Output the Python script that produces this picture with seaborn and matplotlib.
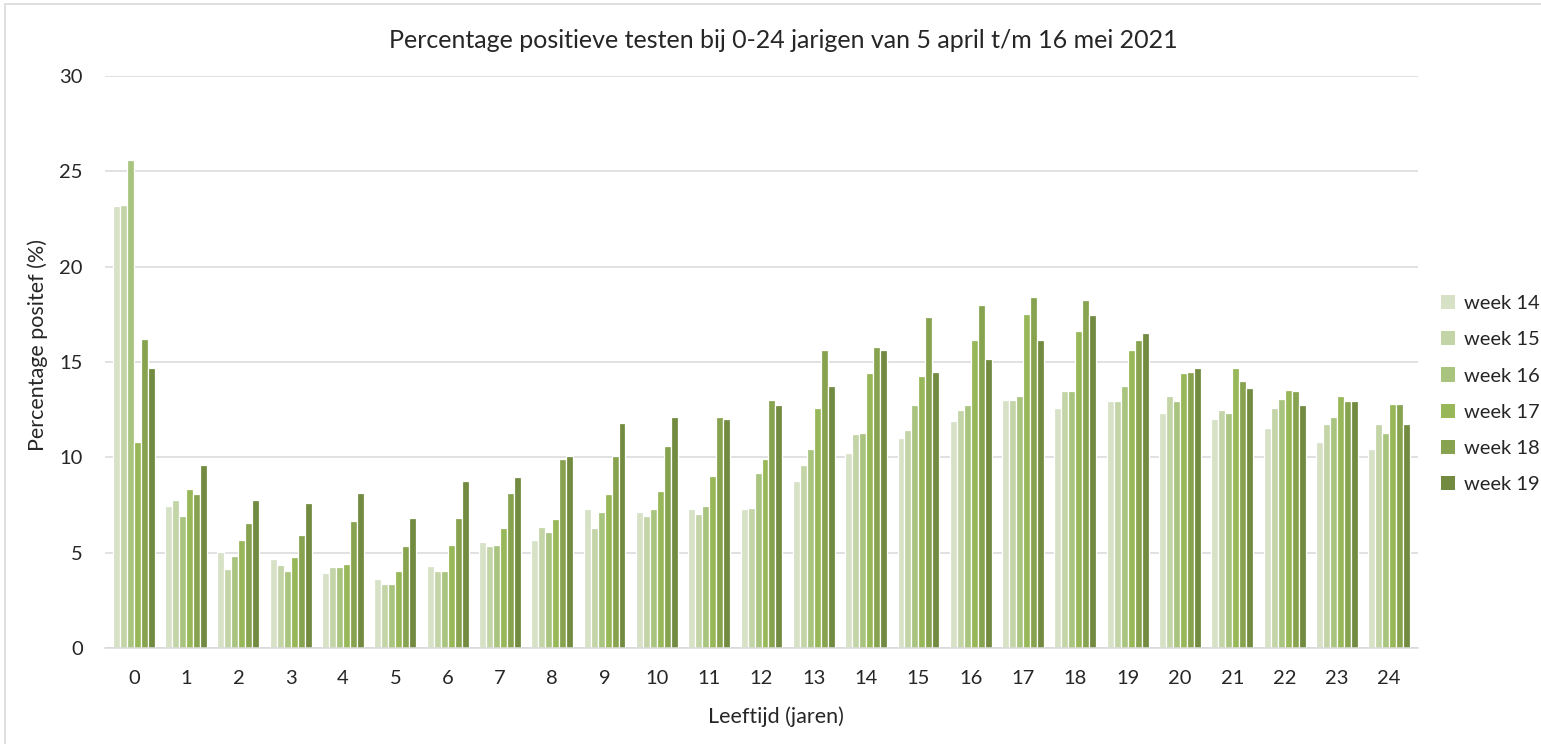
import matplotlib
matplotlib.use("Agg")
import matplotlib.pyplot as plt
import matplotlib.patches as mpatches
import numpy as np
import pandas as pd
import seaborn as sns

# Ages (years) on the x axis
ages = list(range(25))

# Share of positive tests (%) per week, one value per age
week14 = [23.2, 7.44, 5.06, 4.66, 3.94, 3.62, 4.32, 5.56, 5.64, 7.28, 7.14, 7.28, 7.28,
          8.74, 10.24, 11.02, 11.9, 13.02, 12.58, 12.94, 12.32, 12.0, 11.54, 10.82, 10.42]
week15 = [23.25, 7.78, 4.14, 4.34, 4.26, 3.36, 4.06, 5.36, 6.34, 6.28, 6.92, 7.04, 7.36,
          9.62, 11.2, 11.44, 12.46, 13.02, 13.46, 12.94, 13.22, 12.5, 12.58, 11.74, 11.74]
week16 = [25.6, 6.92, 4.84, 4.06, 4.26, 3.36, 4.06, 5.42, 6.08, 7.14, 7.28, 7.44, 9.16,
          10.42, 11.3, 12.74, 12.74, 13.22, 13.46, 13.72, 12.94, 12.32, 13.08, 12.1, 11.3]
week17 = [10.82, 8.36, 5.64, 4.78, 4.4, 4.06, 5.42, 6.28, 6.78, 8.06, 8.26, 9.0, 9.92,
          12.58, 14.44, 14.28, 16.14, 17.52, 16.64, 15.64, 14.42, 14.66, 13.52, 13.22, 12.8]
week18 = [16.22, 8.06, 6.58, 5.94, 6.64, 5.36, 6.84, 8.12, 9.92, 10.08, 10.6, 12.1, 13.02,
          15.64, 15.8, 17.34, 17.98, 18.42, 18.26, 16.14, 14.5, 14.02, 13.46, 12.94, 12.8]
week19 = [14.68, 9.62, 7.78, 7.62, 8.12, 6.84, 8.74, 8.98, 10.08, 11.82, 12.1, 12.0, 12.74,
          13.72, 15.64, 14.5, 15.14, 16.14, 17.44, 16.54, 14.66, 13.64, 12.74, 12.94, 11.74]

week_labels = ["week 14", "week 15", "week 16", "week 17", "week 18", "week 19"]
week_colors = ["#d6e1c5", "#c3d4a6", "#a9c47f", "#98b759", "#87a34f", "#728b40"]

series = [week14, week15, week16, week17, week18, week19]
df = pd.DataFrame({
    "leeftijd": np.tile(ages, len(series)),
    "week": np.repeat(week_labels, len(ages)),
    "pct": np.concatenate(series),
})

sns.set_theme(style="white")
plt.rcParams["font.family"] = ["Lato", "DejaVu Sans"]
TXT = "#262626"

fig = plt.figure(figsize=(15.41, 7.44), dpi=100)
ax = fig.add_axes([105 / 1541, 1 - 648 / 744, (1418 - 105) / 1541, (648 - 76) / 744])

sns.barplot(data=df, x="leeftijd", y="pct", hue="week", order=ages,
            hue_order=week_labels, palette=week_colors, width=0.8,
            edgecolor="white", linewidth=0.9, saturation=1, ax=ax, legend=False)

ax.set_ylim(0, 30)
ax.set_yticks([0, 5, 10, 15, 20, 25, 30])
ax.set_xlim(-0.55, 24.55)
ax.yaxis.grid(True, color="#d9d9d9", linewidth=1.1)
ax.set_axisbelow(True)
for side in ["left", "right", "top"]:
    ax.spines[side].set_visible(False)
ax.spines["bottom"].set_color("#d9d9d9")
ax.spines["bottom"].set_linewidth(1.1)
ax.tick_params(axis="both", length=0, labelsize=14.5, colors=TXT)
ax.tick_params(axis="y", pad=16)
ax.tick_params(axis="x", pad=16)
ax.set_xlabel("")
ax.set_ylabel("")

# Axis titles and chart title
fig.text(776 / 1541, 1 - 717 / 744, "Leeftijd (jaren)",
         ha="center", va="center", fontsize=15.5, color=TXT)
fig.text(38 / 1541, 1 - 345 / 744, "Percentage positef (%)",
         ha="center", va="center", rotation=90, fontsize=15.5, color=TXT)
fig.text(783 / 1541, 1 - 40 / 744,
         "Percentage positieve testen bij 0-24 jarigen van 5 april t/m 16 mei 2021",
         ha="center", va="center", fontsize=18, color=TXT)

handles = [mpatches.Patch(facecolor=c, edgecolor="none", label=l)
           for c, l in zip(week_colors, week_labels)]
fig.legend(handles=handles, loc="upper left", bbox_to_anchor=(1441 / 1541, 1 - 295 / 744),
           frameon=False, fontsize=14.5, handlelength=0.7, handleheight=0.7,
           handletextpad=0.45, labelspacing=0.95, borderpad=0, borderaxespad=0,
           labelcolor=TXT)

# Chart frame, open to the right and bottom
fig.add_artist(mpatches.Rectangle((5 / 1541, -0.1), 2, (1 - 4 / 744) + 0.1,
                                  transform=fig.transFigure, fill=False,
                                  edgecolor="#d9d9d9", linewidth=1.2))

fig.savefig("out.png", dpi=100, facecolor="white")
